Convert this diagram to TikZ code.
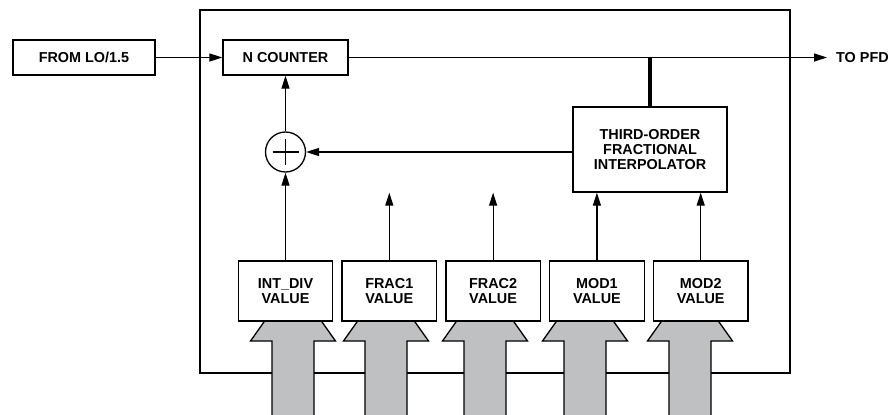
\documentclass[tikz,border=0pt]{standalone}
\usepackage{fontspec}
\setmainfont{Liberation Sans}
\usetikzlibrary{arrows.meta, positioning}
\definecolor{arrowgray}{RGB}{191,192,194}
\tikzstyle{blockbox} = [rectangle, draw=black, line width=1.3pt, fill=white, inner sep=0pt, text centered, align=center, font=\bfseries\fontsize{14.4}{15}\selectfont]
\tikzstyle{valuebox} = [blockbox, minimum width=94.5pt, minimum height=60pt]
\tikzstyle{arrow} = [line width=1.2pt, -{Triangle[length=13pt,width=8pt]}]
\tikzstyle{busline} = [line width=4pt]
\tikzstyle{bigarrow} = [draw=black, line width=1.3pt, fill=arrowgray, line join=miter]

\begin{document}
\begin{tikzpicture}[x=1pt, y=-1pt]
\useasboundingbox (0,0) rectangle (889,415);

% Frame
\node (frame) [draw=black, line width=2.5pt, minimum width=590pt, minimum height=363pt, inner sep=0pt] at (495,191.5) {};

% Input arrows
\foreach \ax in {293,386,485,585,690} {
  \draw [bigarrow] ({\ax-21},416) -- ({\ax-21},341) -- ({\ax-42.5},341) -- (\ax,281)
    -- ({\ax+42.5},341) -- ({\ax+21},341) -- ({\ax+21},416) -- cycle;
}

% Nodes
\node (from) [blockbox, minimum width=142pt, minimum height=35pt] at (84,57.5) {FROM LO/1.5};
\node (ncounter) [blockbox, minimum width=125pt, minimum height=35pt] at (285.5,57.5) {N COUNTER};
\node (adder) [circle, draw=black, line width=1.3pt, minimum size=40pt, inner sep=0pt] at (285.5,152) {};
\node (interp) [blockbox, minimum width=154pt, minimum height=85pt] at (650,149.5) {THIRD-ORDER\\FRACTIONAL\\INTERPOLATOR};
\node (topfd) [anchor=west, inner sep=0pt, font=\bfseries\fontsize{14.4}{15}\selectfont] at (836,57.5) {TO PFD};
\node (intdiv) [valuebox] at (285.5,291) {INT\_DIV\\VALUE};
\node (frac1) [valuebox, right=8pt of intdiv] {FRAC1\\VALUE};
\node (frac2) [valuebox, right=8pt of frac1] {FRAC2\\VALUE};
\node (mod1) [valuebox, right=8pt of frac2] {MOD1\\VALUE};
\node (mod2) [valuebox, right=8pt of mod1] {MOD2\\VALUE};

% Adder sign
\draw [line width=1.2pt] ([xshift=-13pt]adder.center) -- ([xshift=13pt]adder.center);
\draw [line width=1.2pt] ([yshift=-13pt]adder.center) -- ([yshift=13pt]adder.center);

% Arrows
\draw [arrow] (from) -- (ncounter);
\draw [arrow] (ncounter.east) -- ([xshift=-9pt]topfd.west);
\draw [busline] (interp.north) -- (interp.north |- ncounter);
\draw [arrow] (adder -| interp.west) -- (adder);
\draw [arrow] (adder) -- (ncounter);
\draw [arrow] (intdiv) -- (adder);
\coordinate (frac1end) at (frac1.north |- interp.south);
\coordinate (frac2end) at (frac2.north |- interp.south);
\draw [arrow] (frac1.north) -- (frac1end);
\draw [arrow] (frac2.north) -- (frac2end);
\draw [arrow] (mod1.north) -- (mod1.north |- interp.south);
\draw [arrow] (mod2.north) -- (mod2.north |- interp.south);

\end{tikzpicture}
\end{document}
